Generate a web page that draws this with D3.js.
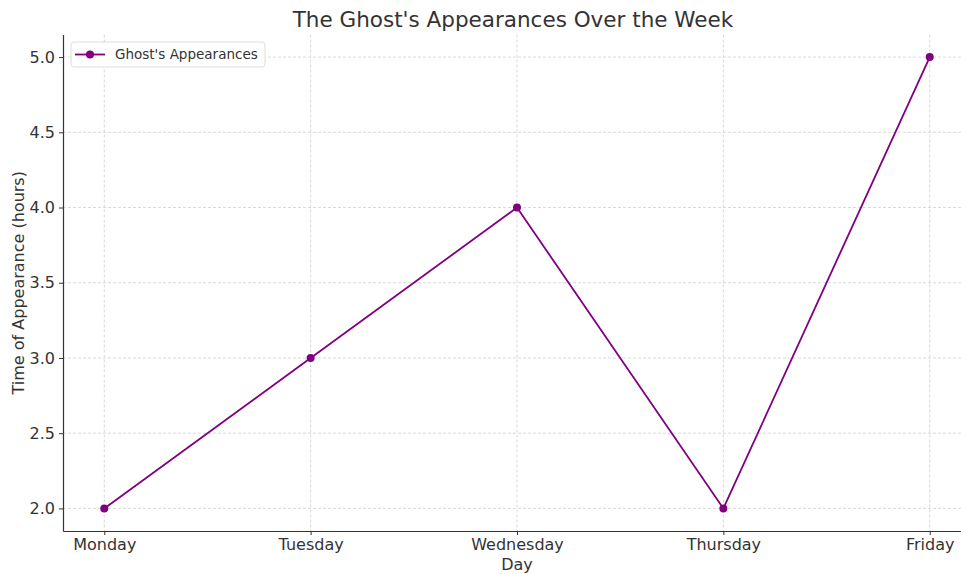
<!DOCTYPE html>
<html>
<head>
<meta charset="utf-8">
<script src="https://cdn.jsdelivr.net/npm/d3@7"></script>
<style>
  body { margin: 0; background: #fff; }
  svg { font-family: "DejaVu Sans", sans-serif; display: block; }
</style>
</head>
<body>
<div id="chart"></div>
<script>
  // chart data
  const days = ["Monday", "Tuesday", "Wednesday", "Thursday", "Friday"];
  const appearances = [2, 3, 4, 2, 5];
  const yTicks = [2.0, 2.5, 3.0, 3.5, 4.0, 4.5, 5.0];

  let width = 961, height = 574;
  let margin = {top: 34.5, left: 63, right: -10, bottom: 43};
  let innerW = width - margin.left - margin.right,
      innerH = height - margin.top - margin.bottom;

  let svg = d3.select('#chart').append('svg')
      .attr('width', width)
      .attr('height', height);

  let xScale = d3.scaleLinear().domain([-0.2, days.length - 1 + 0.2]).range([0, innerW]);
  let yScale = d3.scaleLinear().domain([1.85, 5.15]).range([innerH, 0]);

  let g = svg.append('g').attr('transform', `translate(${margin.left},${margin.top})`);

  // grid lines
  g.append('g').selectAll('line').data(days).enter()
    .append('line')
      .attr('x1', (d, i) => xScale(i)).attr('x2', (d, i) => xScale(i))
      .attr('y1', 0).attr('y2', innerH)
      .attr('stroke', '#cfcfcf').attr('stroke-width', 0.8)
      .attr('stroke-dasharray', '3,2');
  g.append('g').selectAll('line').data(yTicks).enter()
    .append('line')
      .attr('x1', 0).attr('x2', innerW)
      .attr('y1', d => yScale(d)).attr('y2', d => yScale(d))
      .attr('stroke', '#cfcfcf').attr('stroke-width', 0.8)
      .attr('stroke-dasharray', '3,2');

  // axes
  let xAxis = g.append('g').attr('transform', `translate(0,${innerH})`)
    .call(d3.axisBottom(xScale).tickValues(d3.range(days.length))
      .tickFormat(i => days[i]).tickSize(4).tickPadding(4).tickSizeOuter(0));
  let yAxis = g.append('g')
    .call(d3.axisLeft(yScale).tickValues(yTicks)
      .tickFormat(d3.format('.1f')).tickSize(4).tickPadding(4).tickSizeOuter(0));

  [xAxis, yAxis].forEach(a => {
    a.select('.domain').attr('stroke', '#333').attr('stroke-width', 1.2);
    a.selectAll('.tick line').attr('stroke', '#333');
    a.selectAll('.tick text').attr('fill', '#333')
      .style('font-family', '"DejaVu Sans", sans-serif').style('font-size', '16px');
  });

  // line + markers
  let line = d3.line().x((d, i) => xScale(i)).y(d => yScale(d));
  g.append('path').datum(appearances)
    .attr('d', line)
    .attr('fill', 'none')
    .attr('stroke', '#800080')
    .attr('stroke-width', 1.8);
  g.selectAll('circle.pt').data(appearances).enter()
    .append('circle').attr('class', 'pt')
      .attr('cx', (d, i) => xScale(i))
      .attr('cy', d => yScale(d))
      .attr('r', 4)
      .attr('fill', '#800080');

  // titles
  svg.append('text')
    .attr('x', 513).attr('y', 27)
    .attr('text-anchor', 'middle').attr('fill', '#333')
    .style('font-size', '21.5px')
    .text("The Ghost's Appearances Over the Week");
  svg.append('text')
    .attr('x', 517).attr('y', 570)
    .attr('text-anchor', 'middle').attr('fill', '#333')
    .style('font-size', '16px')
    .text('Day');
  svg.append('text')
    .attr('transform', `translate(24,${margin.top + innerH / 2}) rotate(-90)`)
    .attr('text-anchor', 'middle').attr('fill', '#333')
    .style('font-size', '16px')
    .text('Time of Appearance (hours)');

  // legend
  let lg = svg.append('g').attr('transform', 'translate(71,42)');
  lg.append('rect').attr('width', 194).attr('height', 25).attr('rx', 3)
    .attr('fill', '#fff').attr('stroke', '#ddd');
  lg.append('line').attr('x1', 4).attr('x2', 34).attr('y1', 12.5).attr('y2', 12.5)
    .attr('stroke', '#800080').attr('stroke-width', 1.8);
  lg.append('circle').attr('cx', 19).attr('cy', 12.5).attr('r', 4).attr('fill', '#800080');
  lg.append('text').attr('x', 44).attr('y', 17).attr('fill', '#333')
    .style('font-size', '13.5px').text("Ghost's Appearances");
</script>
</body>
</html>
